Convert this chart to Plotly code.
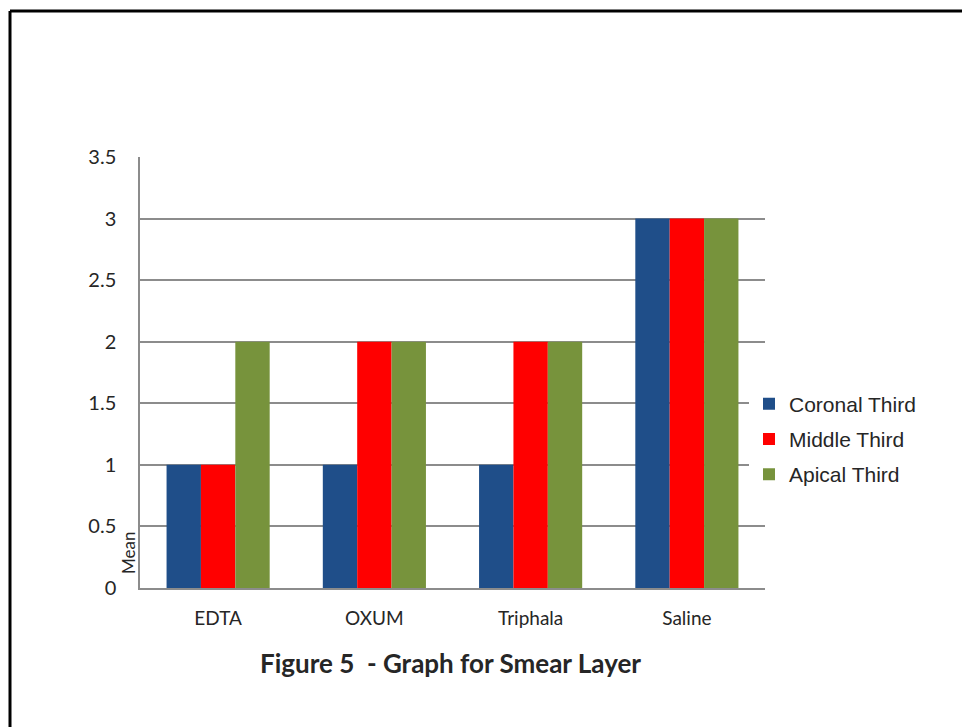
import plotly.graph_objects as go

categories = ["EDTA", "OXUM", "Triphala", "Saline"]
coronal = [1, 1, 1, 3]
middle = [1, 2, 2, 3]
apical = [2, 2, 2, 3]
series_names = ["Coronal Third", "Middle Third", "Apical Third"]
colors = ["#1F4E89", "#FF0000", "#77933C"]
title_text = "Figure 5  - Graph for Smear Layer"
y_title = "Mean"

W, H = 962, 727
L, R, T, B = 140, 197, 157, 139
pw, ph = W - L - R, H - T - B

def px_x(x):
    return (x - L) / pw

def px_y(y):
    return (H - B - y) / ph

fig = go.Figure()
for i, (name, vals) in enumerate(zip(series_names, [coronal, middle, apical])):
    fig.add_trace(go.Bar(x=categories, y=vals, name=name, marker_color=colors[i],
                         marker_line_width=0, legendgroup=name))

fig.update_layout(
    width=W, height=H,
    margin=dict(l=L, r=R, t=T, b=B),
    paper_bgcolor="white", plot_bgcolor="white",
    barmode="group", bargap=0.34, bargroupgap=0,
    font=dict(family="Lato", size=18, color="#262626"),
    showlegend=True,
    legend=dict(x=px_x(749), xanchor="left", y=px_y(439), yanchor="middle",
                font=dict(family="Liberation Sans", size=21, color="#262626"),
                tracegroupgap=5, itemwidth=30),
    xaxis=dict(showgrid=False, showline=True, linecolor="#8C8C8C", linewidth=1.5,
               ticks="", tickfont=dict(size=19), ticklabelstandoff=12),
    yaxis=dict(range=[0, 3.5], dtick=0.5, showgrid=True, gridcolor="#8C8C8C", gridwidth=1.5,
               showline=True, linecolor="#8C8C8C", linewidth=1.5, zeroline=False,
               ticks="", tickfont=dict(size=20), ticklabelstandoff=18),
    annotations=[
        dict(text="<b>" + title_text + "</b>", x=px_x(450), y=px_y(663), xref="paper", yref="paper",
             showarrow=False, font=dict(family="Lato", size=26, color="#262626"),
             xanchor="center", yanchor="middle"),
        dict(text=y_title, x=px_x(128), y=px_y(553), xref="paper", yref="paper",
             showarrow=False, textangle=-90, font=dict(family="Lato", size=17, color="#262626"),
             xanchor="center", yanchor="middle"),
    ],
    shapes=[
        dict(type="line", xref="paper", yref="paper", x0=px_x(10), x1=px_x(975),
             y0=px_y(11), y1=px_y(11), line=dict(color="black", width=3)),
        dict(type="line", xref="paper", yref="paper", x0=px_x(10), x1=px_x(10),
             y0=px_y(11), y1=px_y(740), line=dict(color="black", width=3)),
    ],
)

fig.write_html("out.html")
